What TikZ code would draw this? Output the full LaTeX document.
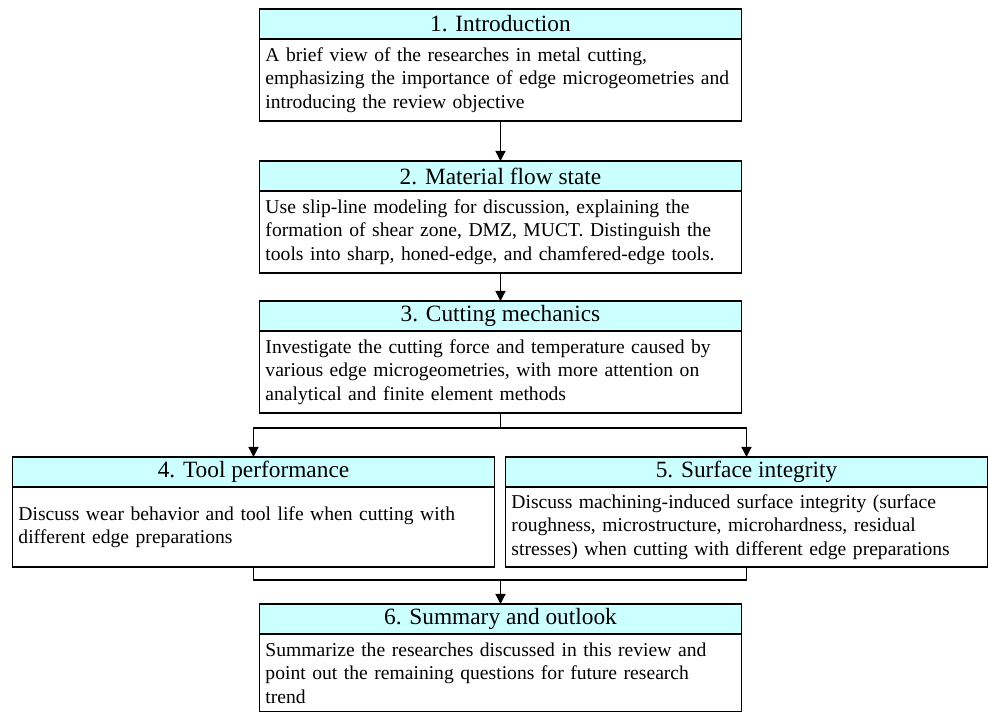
\documentclass[tikz,border=0pt]{standalone}
\usepackage{fontspec}
\setmainfont{Liberation Serif}
\usepackage{tikz}
\usetikzlibrary{arrows.meta, positioning, calc}
\definecolor{headcyan}{RGB}{204,255,255}
\tikzstyle{header} = [rectangle, minimum width=289.2pt, minimum height=18pt, inner sep=0pt, outer sep=0pt, text centered, draw=black, line width=0.9pt, fill=headcyan, font=\fontsize{14}{16}\selectfont]
\tikzstyle{body} = [rectangle, minimum width=289.2pt, minimum height=49.2pt, text width=282pt, inner xsep=3.6pt, inner ysep=0pt, outer sep=0pt, align=left, draw=black, line width=0.9pt, fill=white, font=\fontsize{11.76}{14}\selectfont]
\tikzstyle{line} = [line width=0.75pt]
\tikzstyle{arrow} = [line width=0.75pt,-{Triangle[length=6pt,width=6pt]}]

\begin{document}
\begin{tikzpicture}[node distance=24pt]
\useasboundingbox (-300.3pt,14.4pt) rectangle (292.5pt,-412.8pt);

\node (intro) [header] {1. Introduction};
\node (introtext) [body, below=0pt of intro] {A brief view of the researches in metal cutting,\\ emphasizing the importance of edge microgeometries and\\ introducing the review objective};
\node (flow) [header, below=of introtext] {2. Material flow state};
\node (flowtext) [body, below=0pt of flow] {Use slip-line modeling for discussion, explaining the\\ formation of shear zone, DMZ, MUCT. Distinguish the\\ tools into sharp, honed-edge, and chamfered-edge tools.};
\node (mech) [header, below=16.8pt of flowtext] {3. Cutting mechanics};
\node (mechtext) [body, below=0pt of mech] {Investigate the cutting force and temperature caused by\\ various edge microgeometries, with more attention on\\ analytical and finite element methods};
\node (perf) [header, below=26.4pt of mechtext, xshift=-148.2pt] {4. Tool performance};
\node (perftext) [body, minimum height=48pt, below=0pt of perf] {Discuss wear behavior and tool life when cutting with\\ different edge preparations};
\node (surf) [header, below=26.4pt of mechtext, xshift=147.6pt] {5. Surface integrity};
\node (surftext) [body, minimum height=48pt, below=0pt of surf] {Discuss machining-induced surface integrity (surface\\ roughness, microstructure, microhardness, residual\\ stresses) when cutting with different edge preparations};
\node (summ) [header, below=22.2pt of perftext, xshift=148.2pt] {6. Summary and outlook};
\node (summtext) [body, minimum height=46.8pt, below=0pt of summ] {Summarize the researches discussed in this review and\\ point out the remaining questions for future research\\ trend};

\coordinate (split) at ($(mechtext.south)+(0,-9pt)$);
\coordinate (merge) at ($(perftext.south)+(0,-7.8pt)$);

\draw [arrow] (introtext) -- (flow);
\draw [arrow] (flowtext) -- (mech);
\draw [line] (mechtext) -- (split);
\draw [arrow] (split) -| (perf);
\draw [arrow] (split) -| (surf);
\draw [line] (perftext) -- (merge) -| (surftext);
\draw [arrow] (merge -| summ) -- (summ);

\end{tikzpicture}
\end{document}
